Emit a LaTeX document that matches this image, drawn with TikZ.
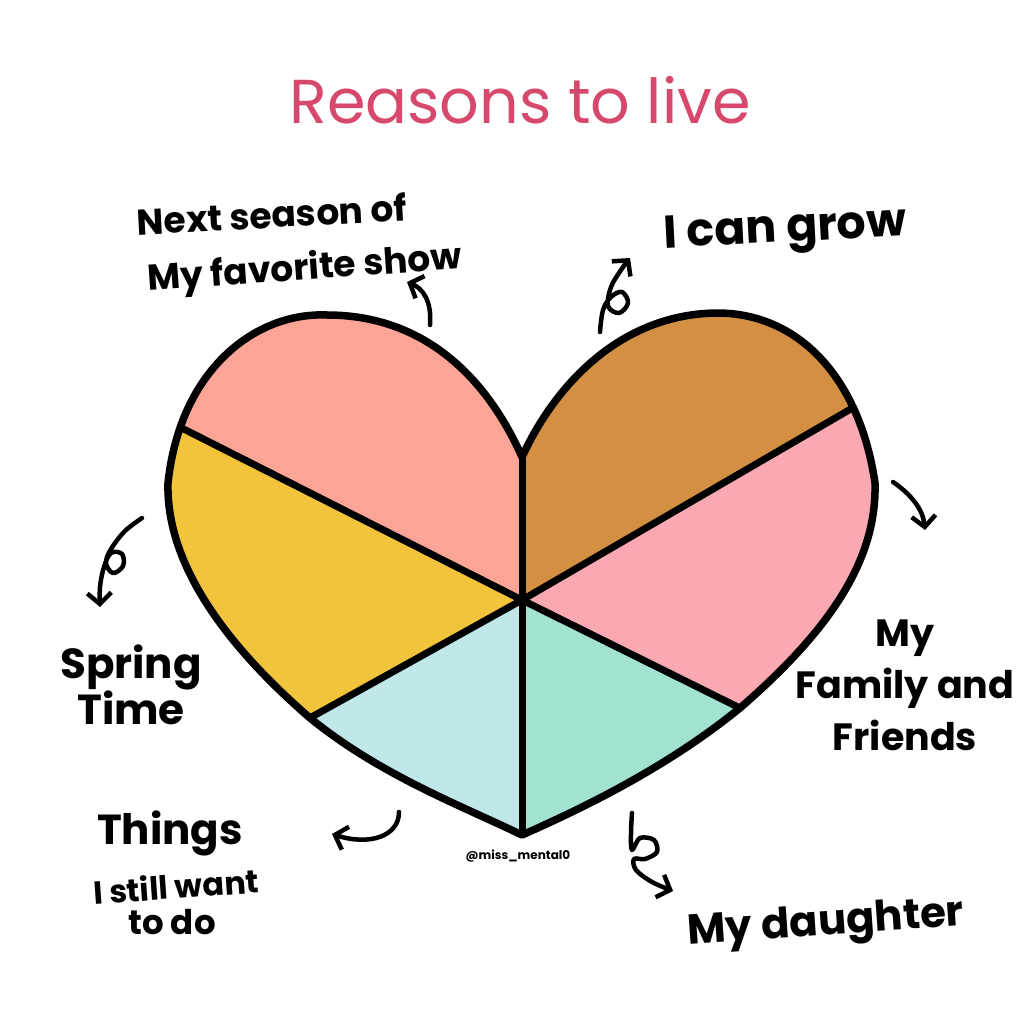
\documentclass[tikz,border=0pt]{standalone}
\usepackage{fontspec}
\setmainfont{Poppins}
\usetikzlibrary{arrows.meta}
\definecolor{cBrown}{HTML}{D38F42}
\definecolor{cPink}{HTML}{FAA9B2}
\definecolor{cMint}{HTML}{A2E2D2}
\definecolor{cCyan}{HTML}{C1E8E8}
\definecolor{cYellow}{HTML}{F2C43C}
\definecolor{cSalmon}{HTML}{FCA596}
\definecolor{cTitle}{HTML}{D7496C}
\def\heartpath{(522,457) .. controls (490,385) and (430,315) .. (327,315) .. controls (255,312) and (180,370) .. (168,483) .. controls (166,560) and (220,640) .. (310,718) .. controls (380,775) and (460,805) .. (522,835) .. controls (590,805) and (670,765) .. (740,708) .. controls (830,630) and (877,560) .. (875,483) .. controls (860,380) and (800,312) .. (715,313) .. controls (620,315) and (555,385) .. (522,457) -- cycle}
\begin{document}
\begin{tikzpicture}[x=1pt,y=-1pt,
  lbl/.style={font=\fontsize{40}{44}\selectfont\bfseries, align=center, inner sep=0pt},
  arr/.style={line width=4.5pt, line cap=round, line join=round, -{Straight Barb[length=11pt,width=24pt]}},
  outline/.style={line width=7.5pt, line join=round},
  divline/.style={line width=7pt, line cap=round}]
\useasboundingbox[fill=white] (0,0) rectangle (1024,1024);
\coordinate (C) at (522,600);
% sectors clipped by heart
\begin{scope}
\path[clip] \heartpath;
\fill[cBrown]  (C) -- (522,100) -- (1100,100) -- (1100,264) -- cycle;
\fill[cPink]   (C) -- (1100,264) -- (1100,886) -- cycle;
\fill[cMint]   (C) -- (1100,886) -- (1100,1000) -- (522,1000) -- cycle;
\fill[cCyan]   (C) -- (522,1000) -- (-100,1000) -- (-100,946) -- cycle;
\fill[cYellow] (C) -- (-100,946) -- (-100,285) -- cycle;
\fill[cSalmon] (C) -- (-100,285) -- (-100,100) -- (522,100) -- cycle;
\draw[divline] (C) -- (522,440);
\draw[divline] (C) -- (880,392);
\draw[divline] (C) -- (760,718);
\draw[divline] (C) -- (522,850);
\draw[divline] (C) -- (290,729);
\draw[divline] (C) -- (150,412);
\end{scope}
\draw[outline] \heartpath;
% title
\node[font=\fontsize{62}{70}\selectfont, text=cTitle, inner sep=0pt] (title) at (520,100) {Reasons to live};
% labels
\node[lbl, font=\fontsize{36}{40}\selectfont\bfseries, rotate=3] (show1) at (272,214) {Next season of};
\node[lbl, font=\fontsize{36}{40}\selectfont\bfseries, rotate=4] (show2) at (305,270) {My favorite show};
\node[lbl, font=\fontsize{46}{50}\selectfont\bfseries, rotate=3] (grow) at (785,232) {I can grow};
\node[lbl, font=\fontsize{42}{44}\selectfont\bfseries] (spring) at (131,685) {Spring\\Time};
\node[lbl, font=\fontsize{38}{52}\selectfont\bfseries] (family) at (905,685) {My\\Family and\\Friends};
\node[lbl, font=\fontsize{42}{44}\selectfont\bfseries] (things) at (170,833) {Things};
\node[lbl, font=\fontsize{32}{36}\selectfont\bfseries, rotate=4] (still) at (176,886) {I still want};
\node[lbl, font=\fontsize{34}{36}\selectfont\bfseries] (todo) at (172,922) {to do};
\node[lbl, font=\fontsize{42}{44}\selectfont\bfseries, rotate=4] (daughter) at (826,925) {My daughter};
\node[font=\fontsize{12}{14}\selectfont\bfseries, inner sep=0pt] (credit) at (518,856) {@miss\_mental0};
% arrows
\coordinate (a1s) at (430,325); \coordinate (a1e) at (407,282);
\draw[arr] (a1s) .. controls (432,300) and (422,288) .. (a1e);
\coordinate (a2s) at (600,332); \coordinate (a2e) at (630,258);
\draw[arr] plot[smooth, tension=0.6] coordinates {(a2s) (603,310) (611,297) (622,292) (628,303) (619,313) (608,306) (611,287) (621,270) (a2e)};
\coordinate (a3s) at (142,518); \coordinate (a3e) at (100,607);
\draw[arr] plot[smooth, tension=0.6] coordinates {(a3s) (125,531) (111,549) (106,563) (113,573) (123,566) (122,554) (111,553) (104,567) (100,587) (a3e)};
\coordinate (a4s) at (893,482); \coordinate (a4e) at (925,530);
\draw[arr] (a4s) .. controls (912,495) and (923,510) .. (a4e);
\coordinate (a5s) at (399,812); \coordinate (a5e) at (332,834);
\draw[arr] (a5s) .. controls (399,836) and (370,846) .. (a5e);
\coordinate (a6s) at (632,813); \coordinate (a6e) at (673,891);
\draw[arr] plot[smooth, tension=0.55] coordinates {(a6s) (631,833) (632,850) (640,838) (654,840) (657,852) (645,859) (634,859) (636,870) (652,882) (a6e)};
\end{tikzpicture}
\end{document}
